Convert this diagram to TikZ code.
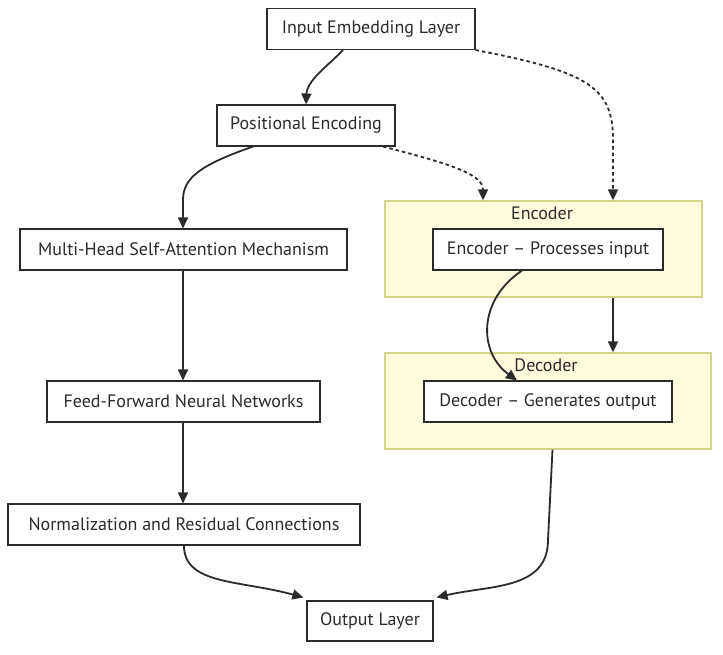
\documentclass[tikz,border=0pt]{standalone}
\usepackage{fontspec}
\setmainfont{PT Sans}
\usetikzlibrary{arrows.meta,positioning,calc}
\definecolor{clfill}{HTML}{FFFBDC}
\definecolor{cldraw}{HTML}{D4D48A}
\definecolor{ln}{HTML}{2B2B2B}
\begin{document}
\begin{tikzpicture}[x=1pt,y=-1pt,
  box/.style={draw=ln,fill=white,line width=1.1pt,minimum height=41pt,inner sep=0pt,text=ln,font=\fontsize{18}{21}\selectfont},
  cluster/.style={draw=cldraw,fill=clfill,line width=1.3pt},
  lbl/.style={font=\fontsize{18}{21}\selectfont,inner sep=0pt,text=ln},
  conn/.style={draw=ln,line width=1.8pt,-{Triangle[length=11pt,width=10pt]}},
  dconn/.style={conn,dash pattern=on 3.5pt off 3pt}]
\useasboundingbox (0,0) rectangle (723,654);
% clusters
\node[cluster,minimum width=317pt,minimum height=96pt,inner sep=0pt] (enc) at (543.5,249) {};
\node[cluster,minimum width=326pt,minimum height=96pt,inner sep=0pt] (dec) at (548,401) {};
\node[lbl] (encl) at (542,213) {Encoder};
\node[lbl] (decl) at (546,365) {Decoder};
% nodes
\node[box,minimum width=208pt] (in) at (371,29) {Input Embedding Layer};
\node[box,minimum width=178pt] (pos) at (306,125.5) {Positional Encoding};
\node[box,minimum width=327pt] (mh) at (183.5,249.5) {Multi-Head Self-Attention Mechanism};
\node[box,minimum width=273pt] (ff) at (183.5,401.5) {Feed-Forward Neural Networks};
\node[box,minimum width=352pt] (norm) at (184,524.5) {Normalization and Residual Connections};
\node[box,minimum width=126pt,minimum height=40pt] (out) at (370,621) {Output Layer};
\node[box,minimum width=230pt] (encn) at (548,249.5) {Encoder – Processes input};
\node[box,minimum width=248pt] (decn) at (548,401.5) {Decoder – Generates output};
% connectors
\coordinate (a1) at ([xshift=-28pt]in.south);
\draw[conn] (a1) .. controls (330,64) and (307,80) .. (pos.north);
\draw[dconn] (in.south east) .. controls (590,72) and (613,88) .. (613,140) -- ([xshift=69.5pt]enc.north);
\coordinate (p1) at ([xshift=77pt]pos.south);
\draw[dconn] (p1) .. controls (455,165) and (483,175) .. ([xshift=-60.5pt]enc.north);
\coordinate (p2) at ([xshift=-53pt]pos.south);
\draw[conn] (p2) .. controls (200,165) and (183,178) .. (183,200) -- ([xshift=-0.5pt]mh.north);
\draw[conn] ([xshift=-0.5pt]mh.south) -- ([xshift=-0.5pt]ff.north);
\draw[conn] ([xshift=-0.5pt]ff.south) -- ([xshift=-1pt]norm.north);
\draw[conn] (norm.south) .. controls (184,585) and (240,580) .. ([xshift=-3pt,yshift=3pt]out.north west);
\draw[conn] ([xshift=4.5pt]dec.south) -- (548,540) .. controls (548,590) and (490,585) .. ([xshift=3pt,yshift=3pt]out.north east);
\coordinate (e1) at ([xshift=-26pt]encn.south);
\draw[conn] (e1) .. controls (478,300) and (478,352) .. ([xshift=-31pt]decn.north);
\draw[conn] ([xshift=69.5pt]enc.south) -- ([xshift=65pt]dec.north);
\end{tikzpicture}
\end{document}
